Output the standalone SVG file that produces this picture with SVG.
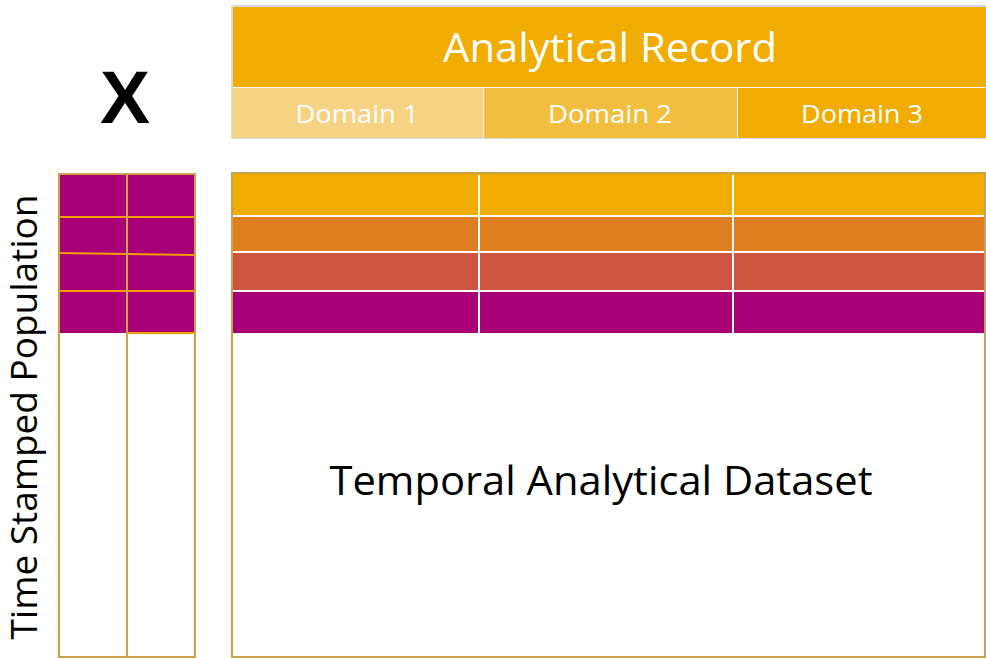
<svg xmlns="http://www.w3.org/2000/svg" width="986" height="659" viewBox="0 0 986 659">
<style>
.hdr{font-family:"Open Sans","Liberation Sans",sans-serif;fill:#ffffff}
.blk{font-family:"Open Sans","Liberation Sans",sans-serif;fill:#000000}
.frame{fill:none;stroke:#C9A24A;stroke-width:2}
.wl{stroke:#ffffff;stroke-width:2}
.ol{stroke:#F0A000;stroke-width:2}
</style>
<rect width="986" height="659" fill="#ffffff"/>
<g id="analytical-record">
<rect x="232" y="6" width="754" height="132" fill="none" stroke="#cccccc" stroke-width="1.5"/>
<rect x="233" y="7" width="753" height="80" fill="#F0AC00"/>
<text class="hdr" x="610" y="62" font-size="40" text-anchor="middle" textLength="334" lengthAdjust="spacingAndGlyphs">Analytical Record</text>
</g>
<g id="domain-1">
<rect x="232" y="88" width="251" height="50" fill="#F5D382"/>
<text class="hdr" x="357" y="123" font-size="25" text-anchor="middle" textLength="123" lengthAdjust="spacingAndGlyphs">Domain 1</text>
</g>
<g id="domain-2">
<rect x="484" y="88" width="253" height="50" fill="#F2BE40"/>
<text class="hdr" x="610" y="123" font-size="25" text-anchor="middle" textLength="124" lengthAdjust="spacingAndGlyphs">Domain 2</text>
</g>
<g id="domain-3">
<rect x="738" y="88" width="248" height="50" fill="#F0AC00"/>
<text class="hdr" x="862" y="123" font-size="25" text-anchor="middle" textLength="122" lengthAdjust="spacingAndGlyphs">Domain 3</text>
</g>
<g id="x-label">
<text x="125" y="123" font-family="'Liberation Sans',Arial,sans-serif" font-weight="bold" font-size="75" text-anchor="middle" fill="#000000">X</text>
</g>
<g id="time-stamped-population">
<rect x="59" y="174" width="136" height="159" fill="#AA0077"/>
<line class="ol" x1="59" y1="217" x2="195" y2="217"/>
<line class="ol" x1="59" y1="253" x2="195" y2="255"/>
<line class="ol" x1="59" y1="291" x2="195" y2="291"/>
<line class="ol" x1="127" y1="174" x2="127" y2="333"/>
<line class="ol" x1="127" y1="333" x2="195" y2="333"/>
<rect class="frame" x="59" y="174" width="136" height="483"/>
<line class="frame" x1="127" y1="174" x2="127" y2="657"/>
<text class="blk" transform="translate(37,417) rotate(-90)" font-size="36" text-anchor="middle" textLength="445" lengthAdjust="spacingAndGlyphs">Time Stamped Population</text>
</g>
<g id="temporal-analytical-dataset">
<rect x="232" y="173" width="753" height="44" fill="#F0AC00"/>
<rect x="232" y="217" width="753" height="35" fill="#DE7E20"/>
<rect x="232" y="252" width="753" height="39" fill="#CE5540"/>
<rect x="232" y="291" width="753" height="42" fill="#AA0077"/>
<line class="wl" x1="227" y1="216" x2="985" y2="216"/>
<line class="wl" x1="232" y1="252" x2="985" y2="252"/>
<line class="wl" x1="228" y1="291" x2="985" y2="291"/>
<line class="wl" x1="479" y1="175" x2="479" y2="333"/>
<line class="wl" x1="733" y1="175" x2="733" y2="333"/>
<rect class="frame" x="232" y="173" width="753" height="484"/>
<text class="blk" x="601" y="495" font-size="41" text-anchor="middle" textLength="543" lengthAdjust="spacingAndGlyphs">Temporal Analytical Dataset</text>
</g>
<g id="connectors"/>
</svg>
